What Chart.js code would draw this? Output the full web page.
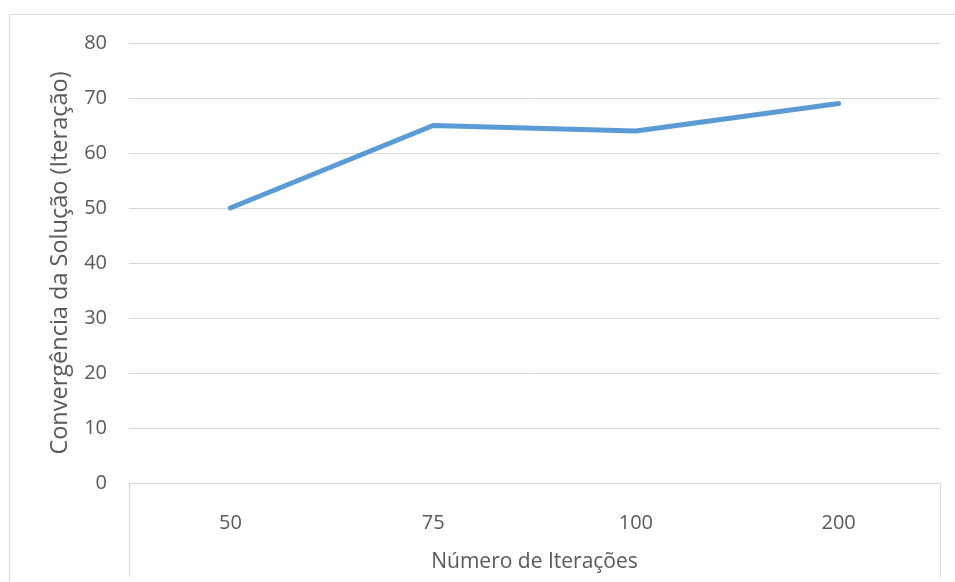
<!DOCTYPE html>
<html>
<head>
<meta charset="utf-8">
<script src="https://cdn.jsdelivr.net/npm/chart.js@4/dist/chart.umd.min.js"></script>
<style>
  html, body { margin: 0; padding: 0; background: #ffffff; }
  #wrap { position: relative; width: 955px; height: 582px; }
</style>
</head>
<body>
<div id="wrap"><canvas id="c" width="955" height="582"></canvas></div>
<script>
// Iteration budgets on the x axis and the iteration at which the solution converged
const categories = ['50', '75', '100', '200'];
const convergence = [50, 65, 64, 69];
const yTicks = [0, 10, 20, 30, 40, 50, 60, 70, 80];

const textColor = '#595959';
const gridColor = '#d9d9d9';
const fontFamily = '"Open Sans", "Noto Sans", sans-serif';

// Outer chart frame plus the short box lines hanging under the category axis
const framePlugin = {
  id: 'frame',
  beforeDraw(chart) {
    const { ctx, chartArea } = chart;
    ctx.save();
    ctx.strokeStyle = gridColor;
    ctx.lineWidth = 1;
    ctx.beginPath();
    ctx.moveTo(9.5, chart.height);
    ctx.lineTo(9.5, 14.5);
    ctx.lineTo(chart.width, 14.5);
    ctx.moveTo(Math.round(chartArea.left) + 0.5, chartArea.bottom);
    ctx.lineTo(Math.round(chartArea.left) + 0.5, chartArea.bottom + 94);
    ctx.moveTo(Math.round(chartArea.right) + 0.5, chartArea.bottom);
    ctx.lineTo(Math.round(chartArea.right) + 0.5, chartArea.bottom + 94);
    ctx.stroke();
    ctx.restore();
  }
};

new Chart(document.getElementById('c'), {
  type: 'line',
  data: {
    labels: categories,
    datasets: [{
      data: convergence,
      borderColor: '#5b9bd5',
      borderWidth: 5,
      borderCapStyle: 'round',
      borderJoinStyle: 'round',
      pointRadius: 0,
      tension: 0,
      fill: false
    }]
  },
  options: {
    responsive: false,
    animation: false,
    layout: { padding: { left: 0, top: 43, right: 15, bottom: 0 } },
    plugins: { legend: { display: false }, tooltip: { enabled: false } },
    scales: {
      x: {
        offset: true,
        grid: { display: false },
        border: { display: false },
        ticks: { color: textColor, font: { family: fontFamily, size: 20 }, padding: 20 },
        title: {
          display: true,
          text: 'Número de Iterações',
          color: textColor,
          font: { family: fontFamily, size: 21 },
          padding: { top: 4, bottom: 7 }
        },
        afterFit(scale) { scale.height = 99; }
      },
      y: {
        min: 0,
        max: 80,
        afterBuildTicks(scale) { scale.ticks = yTicks.map(v => ({ value: v })); },
        grid: { color: gridColor, lineWidth: 1, drawTicks: false },
        border: { display: false },
        ticks: { color: textColor, font: { family: fontFamily, size: 20 }, padding: 22 },
        title: {
          display: true,
          text: 'Convergência da Solução (Iteração)',
          color: textColor,
          font: { family: fontFamily, size: 23.5 },
          padding: { top: 46, bottom: 0 }
        },
        afterFit(scale) { scale.width = 129; }
      }
    }
  },
  plugins: [framePlugin]
});
</script>
</body>
</html>
